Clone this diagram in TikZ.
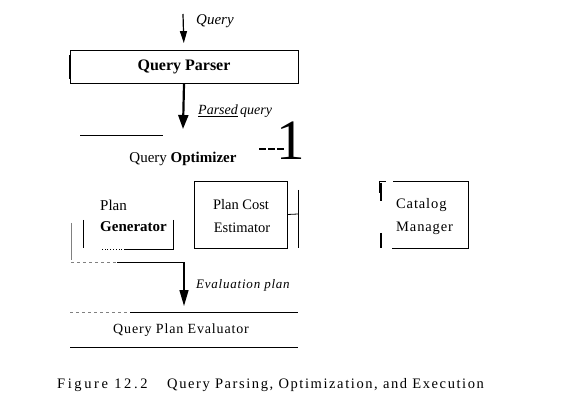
\documentclass[tikz,border=0pt]{standalone}
\usepackage{fontspec}
\setmainfont{Liberation Serif}
\newfontfamily\spaced[LetterSpace=6]{Liberation Serif}
\usetikzlibrary{arrows.meta}
\begin{document}
\begin{tikzpicture}[x=1pt,y=-1pt,
  txt/.style={font=\fontsize{15}{17}\selectfont, inner sep=0pt},
  lbl/.style={font=\fontsize{14}{16}\selectfont\itshape, inner sep=0pt, anchor=west},
  thin/.style={line width=0.8pt},
  arrA/.style={line width=1.2pt, -{Triangle[width=7pt,length=12pt]}},
  arrB/.style={line width=2.2pt, -{Triangle[width=10pt,length=14pt]}},
  arrC/.style={line width=1.4pt, -{Triangle[width=9pt,length=16pt]}}]
\useasboundingbox (0,0) rectangle (587,409);
% Query input
\coordinate (qin) at (183,14);
\node[draw, thin, minimum width=228pt, minimum height=33pt, inner sep=0pt,
      font=\fontsize{16}{18}\selectfont\bfseries] (parser) at (184,67) {Query Parser};
\draw[line width=2.2pt] (70,55) -- (70,79);
\draw[arrA, shorten >=7pt] (qin) -- (parser.north);
\node[lbl, font=\fontsize{15}{17}\selectfont\itshape] (qlbl) at (196,21) {Query};
% parsed query
\coordinate (optin) at (183,129);
\draw[arrB] (parser.south) -- (optin);
\node[lbl] (plbl) at (198,111) {\underline{Parsed}\,query};
% optimizer
\draw[thin] (80,135) -- (163,135);
\node[txt] (opt) at (183,159) {Query \textbf{Optimizer}};
\node[inner sep=0pt, font=\fontsize{57}{57}\selectfont] (one) at (291,141) {1};
\draw[line width=2.4pt] (259,149) -- (266,149) (268,149) -- (275,149) (277,149) -- (284,149);
% plan generator
\node[txt, anchor=west] (gen1) at (100,205) {Plan};
\node[txt, anchor=west, font=\fontsize{15}{17}\selectfont\bfseries] (gen2) at (100,227) {Generator};
\draw[thin] (83,220) -- (83,248);
\draw[thin] (173,220) -- (173,249) -- (125,249);
\draw[thin, dotted] (125,249) -- (100,249);
\draw[line width=0.4pt, gray] (71,223) -- (71,260);
\draw[line width=0.4pt, gray, dashed] (71,262) -- (117,262);
\draw[thin] (117,262) -- (184,262);
\coordinate (genout) at (184,262);
% cost estimator
\node[draw, thin, minimum width=93pt, minimum height=67pt, inner sep=0pt] (cost) at (240.5,214.5) {};
\node[txt, font=\fontsize{14.5}{17}\selectfont] (cost1) at (241,205) {Plan Cost};
\node[txt, font=\fontsize{14.5}{17}\selectfont] (cost2) at (242,228) {Estimator};
\coordinate (bar) at (298,214);
\draw[thin] (cost.east) -- (bar);
\draw[thin] (298,190) -- (298,248);
% catalog manager
\node[draw, thin, minimum width=76pt, minimum height=67pt, inner sep=0pt] (cat) at (430,214.5) {};
\draw[white, line width=2pt] (cat.north west) -- (cat.south west);
\node[txt, anchor=west, font=\spaced\fontsize{14.5}{17}\selectfont] (cat1) at (396,205) {Catalog};
\node[txt, anchor=west, font=\spaced\fontsize{14.5}{17}\selectfont] (cat2) at (396,228) {Manager};
\draw[line width=2pt] (381,183) -- (381,201);
\draw[thin] (380,181) -- (386,181);
\draw[thin] (379,181) -- (379,193);
\draw[line width=1.6pt] (381,233) -- (381,248);
% evaluation plan
\node[txt, font=\spaced\fontsize{14}{16}\selectfont] (eval) at (181,330) {Query Plan Evaluator};
\coordinate (evin) at (184,312);
\draw[arrC, shorten >=6pt] (genout) -- (evin);
\node[lbl, font=\spaced\fontsize{13}{15}\selectfont\itshape] (elbl) at (196,285) {Evaluation plan};
\draw[line width=0.4pt, gray, dashed] (70,312) -- (130,312);
\draw[thin] (130,312) -- (298,312);
\draw[thin] (70,347) -- (298,347);
% caption
\node[anchor=west, inner sep=0pt, font=\fontsize{14.5}{17}\selectfont\addfontfeatures{LetterSpace=18}] (capnum) at (57,385)
  {Figure 12.2};
\node[anchor=west, inner sep=0pt, font=\fontsize{14.5}{17}\selectfont\addfontfeatures{LetterSpace=11}] (captxt) at (167,385)
  {Query Parsing, Optimization, and Execution};
\end{tikzpicture}
\end{document}
